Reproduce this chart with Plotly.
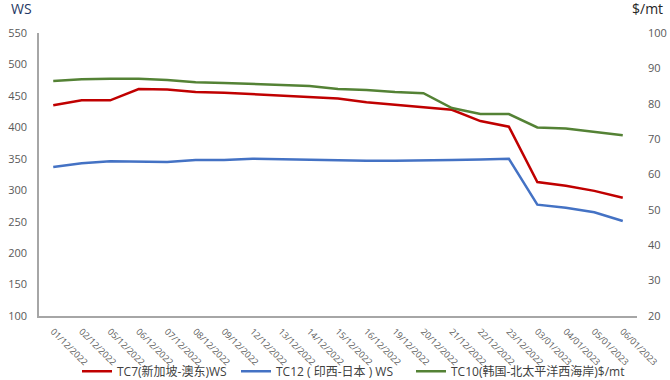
import plotly.graph_objects as go

dates = ["01/12/2022", "02/12/2022", "05/12/2022", "06/12/2022", "07/12/2022",
         "08/12/2022", "09/12/2022", "12/12/2022", "13/12/2022", "14/12/2022",
         "15/12/2022", "16/12/2022", "19/12/2022", "20/12/2022", "21/12/2022",
         "22/12/2022", "23/12/2022", "03/01/2023", "04/01/2023", "05/01/2023",
         "06/01/2023"]

tc7_ws = [435, 443, 443, 461, 460, 456, 455, 453, 451, 448, 446, 440, 436, 431,
          428, 410, 401, 313, 307, 299, 288]
tc12_ws = [337, 343, 346, 346, 345, 348, 348, 350, 349, 348, 348, 347, 347, 347,
           348, 349, 350, 277, 272, 265, 251]
tc10_usd = [86.4, 86.9, 87.1, 87.1, 86.7, 86.1, 85.9, 85.6, 85.3, 85.0, 84.2, 83.9,
            83.3, 83.0, 78.8, 77.1, 77.1, 73.3, 73.0, 72.0, 71.1]

names = ["TC7(新加坡-澳东)WS", "TC12 ( 印西-日本 ) WS", "TC10(韩国-北太平洋西海岸)$/mt"]
colors = ["#C00000", "#4472C4", "#548235"]

font_family = "Open Sans, Noto Sans CJK SC, sans-serif"

fig = go.Figure()
fig.add_trace(go.Scatter(x=dates, y=tc7_ws, name=names[0], mode="lines", legend="legend",
                         line=dict(color=colors[0], width=2.5)))
fig.add_trace(go.Scatter(x=dates, y=tc12_ws, name=names[1], mode="lines", legend="legend2",
                         line=dict(color=colors[1], width=2.5)))
fig.add_trace(go.Scatter(x=dates, y=tc10_usd, name=names[2], mode="lines", yaxis="y2",
                         legend="legend3", line=dict(color=colors[2], width=2.5)))

leg_common = dict(orientation="h", xanchor="left", y=-0.195, yanchor="middle",
                  bgcolor="rgba(0,0,0,0)", font=dict(size=12, color="#404040"),
                  itemwidth=30)

fig.update_layout(
    width=670, height=380,
    margin=dict(l=39, r=33, t=33, b=64, autoexpand=False),
    paper_bgcolor="white", plot_bgcolor="white",
    font=dict(family=font_family, size=11, color="#595959"),
    showlegend=True,
    legend=dict(x=(77 - 39) / 598, **leg_common),
    legend2=dict(x=(236 - 39) / 598, **leg_common),
    legend3=dict(x=(411 - 39) / 598, **leg_common),
    xaxis=dict(type="category", range=[-0.5, len(dates) - 0.5], showgrid=False,
               showline=True, linecolor="#A6A6A6", linewidth=1.5, ticks="",
               tickangle=45, ticklabelstandoff=5,
               tickfont=dict(size=9, color="#595959"), zeroline=False),
    yaxis=dict(range=[100, 550], dtick=50, showgrid=False, showline=True,
               linecolor="#A6A6A6", linewidth=1.5, ticks="", ticklabelstandoff=8,
               tickfont=dict(size=11, color="#595959"), zeroline=False),
    yaxis2=dict(range=[20, 100], dtick=10, overlaying="y", side="right", showgrid=False,
                showline=False, ticks="", ticklabelstandoff=10,
                tickfont=dict(size=11, color="#595959"), zeroline=False),
    annotations=[
        dict(text="WS", xref="paper", yref="paper", x=-0.05, y=1.0, yshift=25,
             xanchor="left", yanchor="middle", showarrow=False,
             font=dict(size=14, color="#1F3864")),
        dict(text="$/mt", xref="paper", yref="paper", x=1.046, y=1.0, yshift=25,
             xanchor="right", yanchor="middle", showarrow=False,
             font=dict(size=14, color="#262626")),
    ],
)

fig.write_html("out.html", config={"displayModeBar": False},
               post_script="document.body.style.margin='0';")
